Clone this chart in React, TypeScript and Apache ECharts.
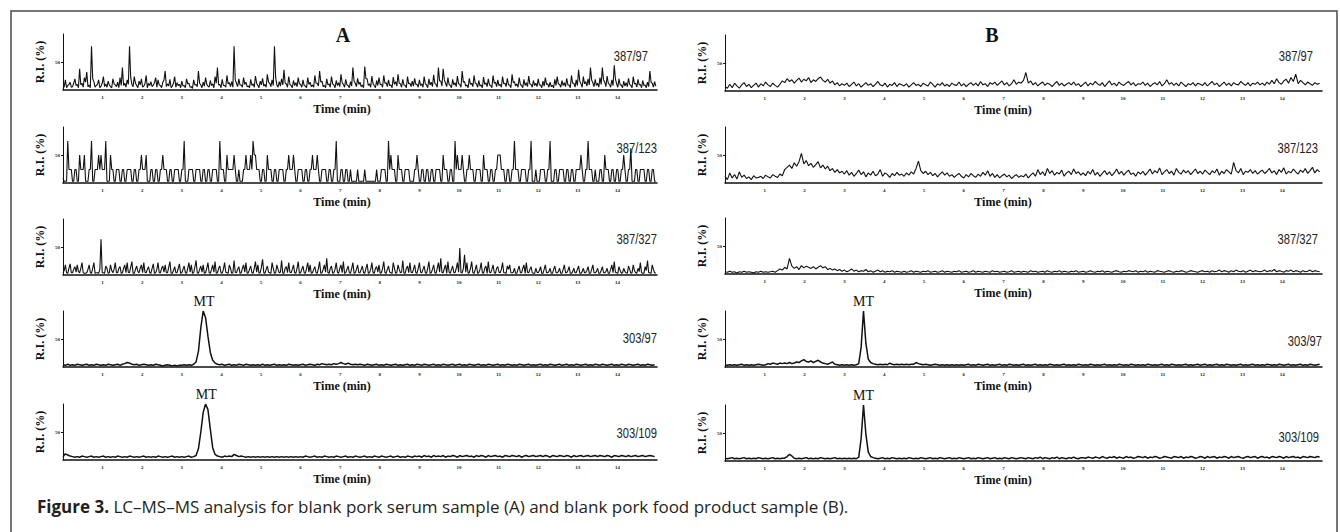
import React, { useEffect, useRef } from "react";
import * as echarts from "echarts";

// ---------- DATA (relative intensity %, sampled every 0.06 min from 0 to 14.94 min) ----------
const STEP = 0.06;
const transitionsA = ["387/97", "387/123", "387/327", "303/97", "303/109"];
const transitionsB = ["387/97", "387/123", "387/327", "303/97", "303/109"];
const peakLabel = "MT";
const peakTimeA = [3.56, 3.62];
const peakTimeB = [3.48, 3.48];

// A: blank pork serum
const a387_97 = [
  3, 18, 8, 14, 6, 20, 10, 38, 12, 22, 32, 9, 78, 15, 8, 18, 7, 24, 11, 16, 6, 20, 9, 14, 22,
  40, 12, 18, 78, 10, 24, 8, 16, 20, 7, 26, 12, 15, 9, 22, 18, 8, 14, 34, 11, 19, 7, 24, 13, 10,
  16, 8, 20, 12, 6, 18, 10, 34, 9, 14, 22, 7, 17, 11, 24, 40, 10, 19, 8, 26, 13, 15, 78, 12, 20,
  9, 22, 14, 7, 19, 11, 25, 8, 16, 21, 10, 28, 12, 18, 78, 9, 15, 20, 36, 11, 24, 8, 17, 13, 22,
  10, 18, 7, 22, 14, 9, 26, 12, 34, 16, 8, 20, 11, 24, 9, 17, 13, 28, 10, 19, 8, 15, 40, 12, 21,
  14, 9, 42, 20, 11, 25, 8, 17, 22, 10, 26, 13, 18, 9, 23, 15, 28, 11, 19, 8, 24, 12, 16, 21, 10,
  18, 11, 24, 9, 20, 14, 27, 10, 40, 16, 38, 12, 22, 8, 19, 13, 25, 10, 34, 15, 9, 21, 12, 26, 11,
  17, 9, 23, 13, 20, 8, 26, 14, 18, 10, 24, 12, 21, 9, 28, 15, 11, 22, 8, 19, 13, 25, 10, 17, 12,
  20, 9, 16, 22, 11, 14, 8, 19, 24, 10, 17, 13, 21, 9, 26, 12, 18, 36, 11, 24, 15, 20, 40, 13, 19,
  12, 22, 40, 14, 25, 10, 18, 44, 11, 20, 9, 16, 13, 21, 8, 24, 12, 19, 10, 17, 9, 14, 34, 12, 15,
];
// readings half-way between the samples above (t = k*0.06 + 0.03)
const a387_97_mid = [
  6, 4, 10, 5, 12, 8, 4, 9, 5, 14, 6, 4, 20, 5, 10, 4, 12, 6, 5, 9, 4, 11, 6, 4, 8,
  8, 5, 10, 22, 6, 12, 4, 9, 5, 11, 4, 8, 6, 13, 5, 9, 4, 18, 6, 7, 4, 12, 5, 8, 4,
  7, 4, 11, 5, 3, 9, 6, 12, 4, 7, 10, 5, 8, 4, 12, 9, 4, 8, 5, 11, 6, 5, 18, 6, 9,
  5, 10, 6, 4, 8, 5, 12, 4, 9, 7, 5, 14, 6, 8, 22, 5, 7, 9, 12, 5, 10, 4, 8, 6, 11,
  5, 8, 4, 10, 6, 5, 12, 7, 14, 6, 4, 9, 5, 11, 4, 8, 6, 13, 5, 9, 4, 7, 16, 6, 10,
  6, 4, 20, 8, 5, 11, 4, 8, 10, 5, 12, 6, 8, 4, 10, 7, 12, 5, 9, 4, 11, 6, 7, 10, 5,
  8, 5, 11, 4, 9, 6, 12, 5, 16, 7, 18, 6, 10, 4, 9, 6, 11, 5, 14, 7, 4, 10, 6, 12, 5,
  7, 4, 10, 6, 9, 4, 12, 6, 8, 5, 11, 6, 9, 4, 13, 7, 5, 10, 4, 8, 6, 11, 5, 8, 6,
  9, 4, 7, 10, 5, 6, 4, 8, 11, 5, 8, 6, 9, 4, 12, 5, 8, 16, 5, 11, 7, 9, 18, 6, 8,
  5, 10, 18, 6, 12, 5, 8, 20, 5, 9, 4, 7, 6, 10, 4, 11, 5, 9, 4, 8, 4, 6, 14, 5, 7,
];
const a387_123 = [
  8, 3, 75, 24, 3, 24, 3, 50, 24, 50, 3, 24, 75, 3, 24, 50, 50, 24, 75, 3, 50, 24, 3, 24, 3,
  24, 3, 24, 24, 3, 24, 3, 24, 50, 24, 50, 3, 24, 3, 24, 3, 24, 50, 24, 3, 24, 3, 24, 24, 3,
  24, 75, 3, 24, 24, 3, 24, 24, 3, 24, 3, 24, 3, 24, 24, 3, 75, 24, 3, 50, 24, 24, 50, 3, 24,
  3, 24, 50, 24, 50, 75, 50, 24, 3, 24, 3, 50, 24, 3, 24, 3, 24, 24, 3, 24, 50, 24, 50, 3, 24,
  24, 3, 24, 3, 24, 50, 24, 50, 3, 24, 24, 3, 24, 3, 24, 75, 3, 24, 3, 24, 3, 24, 3, 3, 24,
  3, 3, 24, 3, 3, 3, 3, 24, 3, 24, 24, 3, 75, 50, 24, 3, 50, 24, 3, 24, 24, 3, 3, 24, 50,
  3, 24, 3, 24, 3, 24, 3, 24, 24, 3, 50, 24, 3, 24, 3, 75, 50, 24, 50, 3, 24, 50, 24, 3, 24,
  24, 3, 50, 24, 3, 24, 3, 24, 50, 50, 24, 3, 24, 3, 24, 75, 24, 3, 24, 24, 3, 24, 75, 3, 24,
  3, 24, 24, 3, 24, 75, 3, 24, 3, 24, 24, 3, 24, 3, 24, 3, 24, 24, 50, 3, 24, 75, 24, 3, 24,
  3, 24, 3, 50, 24, 3, 24, 3, 24, 3, 24, 50, 3, 24, 62, 3, 24, 3, 24, 24, 3, 24, 3, 24, 3,
];
const a387_123_mid = [
  3, 3, 24, 24, 3, 24, 3, 24, 24, 3, 3, 24, 3, 24, 24, 24, 24, 24, 3, 3, 24, 3, 24, 24, 3,
  24, 3, 24, 24, 3, 24, 3, 24, 24, 24, 3, 3, 24, 3, 24, 3, 24, 24, 24, 3, 24, 3, 24, 24, 3,
  24, 3, 3, 24, 24, 3, 24, 24, 3, 24, 3, 24, 3, 24, 24, 3, 24, 24, 3, 24, 24, 24, 24, 3, 3,
  3, 24, 24, 24, 24, 50, 24, 24, 3, 24, 3, 24, 24, 3, 24, 3, 24, 24, 3, 24, 24, 24, 24, 3, 24,
  24, 3, 24, 3, 24, 24, 24, 24, 3, 24, 24, 3, 24, 3, 24, 3, 3, 24, 3, 24, 3, 3, 3, 3, 3,
  3, 3, 3, 3, 3, 3, 3, 3, 3, 24, 24, 3, 24, 24, 24, 3, 24, 24, 3, 24, 24, 3, 3, 24, 24,
  3, 24, 3, 24, 3, 24, 3, 24, 24, 3, 24, 24, 3, 24, 3, 24, 24, 24, 24, 3, 24, 24, 24, 3, 24,
  24, 3, 24, 24, 3, 24, 3, 24, 50, 24, 24, 3, 24, 3, 24, 24, 24, 3, 24, 24, 3, 24, 3, 3, 3,
  3, 24, 24, 3, 24, 3, 3, 24, 3, 24, 24, 3, 24, 3, 24, 3, 24, 24, 24, 3, 24, 24, 24, 3, 3,
  3, 24, 3, 24, 24, 3, 24, 3, 24, 3, 24, 24, 3, 24, 3, 3, 24, 3, 24, 24, 3, 24, 3, 24, 3,
];
const a387_327 = [
  4, 18, 3, 20, 4, 15, 18, 4, 22, 3, 4, 18, 3, 22, 4, 3, 64, 4, 16, 3, 18, 4, 22, 4, 15,
  4, 18, 22, 4, 24, 3, 16, 4, 18, 22, 4, 15, 3, 20, 4, 22, 4, 16, 18, 4, 24, 3, 15, 4, 20,
  4, 16, 3, 22, 18, 4, 26, 3, 16, 18, 4, 22, 3, 18, 24, 4, 16, 3, 22, 4, 18, 3, 26, 4, 15,
  4, 18, 22, 4, 16, 3, 24, 18, 4, 28, 3, 16, 4, 22, 3, 18, 4, 26, 3, 15, 22, 4, 18, 3, 24,
  4, 16, 3, 22, 18, 4, 15, 3, 24, 4, 18, 30, 3, 16, 4, 22, 3, 18, 24, 4, 16, 3, 22, 4, 18,
  4, 16, 3, 20, 4, 22, 3, 15, 18, 4, 24, 3, 16, 4, 22, 3, 18, 4, 26, 3, 16, 22, 4, 18, 3,
  22, 4, 16, 3, 24, 4, 18, 3, 22, 30, 4, 18, 24, 3, 16, 4, 22, 48, 4, 36, 22, 4, 24, 3, 18,
  4, 22, 3, 16, 24, 4, 18, 3, 15, 4, 22, 4, 16, 18, 4, 12, 3, 16, 4, 18, 22, 4, 15, 3, 12,
  4, 15, 3, 18, 4, 12, 3, 16, 4, 12, 3, 18, 4, 15, 3, 12, 4, 16, 3, 12, 4, 15, 3, 18, 4,
  12, 3, 15, 4, 12, 3, 18, 24, 4, 15, 3, 12, 4, 16, 3, 18, 4, 12, 22, 3, 15, 26, 4, 18, 4,
];
const a387_327_mid = [
  8, 4, 12, 4, 10, 5, 6, 12, 4, 3, 10, 4, 12, 3, 4, 10, 4, 3, 12, 4, 8, 10, 4, 12, 3,
  12, 4, 5, 14, 3, 10, 6, 12, 4, 5, 10, 4, 12, 3, 10, 4, 12, 5, 4, 14, 3, 8, 4, 12, 3,
  10, 4, 12, 5, 3, 14, 4, 10, 5, 3, 12, 4, 10, 5, 3, 12, 4, 10, 5, 3, 12, 4, 5, 10, 3,
  12, 5, 3, 10, 4, 12, 5, 3, 14, 4, 10, 5, 3, 12, 4, 10, 5, 3, 12, 4, 5, 10, 4, 12, 3,
  10, 4, 12, 5, 3, 10, 4, 12, 3, 10, 5, 4, 12, 3, 10, 5, 12, 4, 3, 10, 4, 12, 3, 10, 4,
  10, 4, 12, 3, 10, 4, 12, 5, 3, 12, 4, 10, 5, 3, 12, 4, 10, 5, 3, 12, 4, 5, 10, 4, 12,
  5, 10, 4, 12, 3, 10, 4, 12, 5, 4, 12, 3, 5, 10, 4, 12, 5, 4, 12, 5, 3, 12, 4, 10, 3,
  10, 4, 12, 3, 5, 10, 4, 12, 5, 10, 4, 3, 10, 4, 5, 3, 10, 4, 12, 3, 5, 10, 4, 3, 5,
  8, 3, 10, 4, 6, 3, 10, 4, 6, 3, 10, 4, 8, 3, 6, 4, 10, 3, 6, 4, 8, 3, 10, 4, 6,
  3, 8, 4, 6, 3, 10, 4, 5, 3, 8, 4, 6, 3, 10, 4, 8, 3, 6, 4, 3, 8, 4, 3, 10, 3,
];
const a303_97 = [
  4, 3, 5, 3, 4, 3, 5, 4, 3, 4, 5, 3, 4, 3, 5, 4, 3, 4, 3, 5, 4, 3, 4, 5, 3,
  5, 6, 8, 7, 5, 4, 5, 3, 4, 5, 4, 3, 4, 3, 5, 4, 3, 2, 3, 4, 3, 2, 3, 2, 3,
  3, 4, 3, 4, 3, 5, 9, 28, 70, 100, 88, 55, 26, 12, 7, 5, 4, 5, 3, 4, 5, 3, 4, 3, 5,
  4, 3, 5, 4, 3, 4, 3, 4, 3, 5, 3, 4, 3, 4, 5, 3, 4, 3, 4, 3, 5, 4, 3, 4, 3,
  4, 5, 3, 4, 5, 4, 3, 5, 4, 6, 5, 4, 5, 4, 6, 5, 6, 8, 6, 5, 7, 5, 4, 5, 4,
  5, 4, 3, 5, 4, 3, 4, 5, 3, 4, 3, 5, 4, 3, 4, 5, 3, 4, 3, 4, 5, 3, 4, 3, 5,
  4, 3, 5, 4, 3, 4, 5, 3, 4, 3, 5, 4, 3, 4, 5, 3, 4, 5, 3, 4, 3, 5, 4, 3, 4,
  5, 3, 4, 3, 5, 4, 3, 4, 5, 3, 4, 3, 5, 4, 3, 4, 3, 5, 4, 3, 4, 5, 3, 4, 3,
  4, 5, 3, 4, 3, 5, 4, 3, 4, 5, 3, 4, 5, 3, 4, 3, 5, 4, 3, 4, 5, 3, 4, 3, 5,
  4, 3, 5, 4, 3, 4, 5, 3, 4, 3, 5, 4, 3, 5, 4, 3, 4, 5, 3, 4, 3, 5, 4, 3, 4,
];
const a303_109 = [
  6, 11, 9, 7, 6, 5, 6, 5, 7, 6, 5, 6, 7, 5, 6, 5, 6, 7, 5, 6, 5, 6, 5, 7, 6,
  5, 6, 5, 7, 6, 5, 6, 5, 6, 7, 5, 6, 5, 6, 5, 7, 6, 5, 6, 5, 6, 7, 5, 6, 5,
  6, 5, 6, 7, 5, 6, 8, 20, 50, 85, 100, 90, 55, 22, 10, 7, 6, 5, 7, 6, 7, 6, 10, 8, 6,
  7, 6, 5, 6, 5, 6, 5, 6, 5, 6, 5, 6, 5, 6, 5, 6, 5, 6, 5, 6, 5, 6, 5, 6, 5,
  6, 5, 7, 6, 5, 6, 7, 5, 6, 5, 7, 6, 5, 6, 5, 7, 6, 5, 6, 7, 5, 6, 5, 7, 6,
  5, 6, 7, 5, 6, 5, 7, 6, 5, 7, 6, 5, 6, 7, 5, 6, 7, 5, 6, 5, 7, 6, 5, 7, 6,
  7, 5, 8, 6, 7, 5, 8, 6, 7, 6, 8, 5, 7, 6, 8, 7, 5, 8, 6, 7, 8, 6, 7, 5, 8,
  6, 8, 7, 5, 8, 6, 7, 8, 6, 7, 5, 8, 7, 6, 8, 7, 6, 8, 5, 7, 8, 6, 7, 8, 6,
  7, 8, 6, 8, 7, 5, 8, 7, 6, 8, 7, 6, 8, 7, 5, 8, 6, 7, 8, 6, 7, 8, 6, 7, 8,
  6, 8, 7, 6, 8, 7, 5, 8, 7, 6, 8, 7, 6, 8, 6, 7, 8, 6, 7, 8, 6, 7, 8, 7, 6,
];

// B: blank pork food product
const b387_97 = [
  8, 5, 12, 6, 14, 9, 5, 11, 15, 8, 12, 6, 10, 14, 7, 13, 9, 16, 11, 8, 14, 10, 7, 12, 18,
  15, 22, 17, 20, 14, 19, 23, 16, 21, 18, 24, 15, 20, 17, 22, 25, 19, 16, 21, 14, 18, 11, 15, 9, 13,
  10, 14, 8, 12, 16, 9, 13, 7, 11, 15, 10, 13, 8, 12, 17, 11, 9, 14, 7, 12, 10, 15, 8, 13, 11,
  9, 13, 7, 11, 15, 10, 12, 8, 14, 11, 9, 16, 12, 7, 13, 10, 15, 9, 12, 8, 14, 11, 10, 16, 9,
  13, 8, 12, 15, 10, 14, 9, 17, 11, 13, 8, 15, 12, 16, 10, 14, 18, 11, 15, 9, 13, 20, 12, 16, 14,
  19, 33, 14, 18, 11, 15, 9, 13, 16, 10, 14, 12, 8, 13, 17, 10, 14, 9, 12, 15, 11, 16, 10, 13, 8,
  12, 16, 9, 14, 11, 17, 13, 10, 15, 8, 13, 18, 11, 14, 9, 16, 12, 10, 14, 17, 11, 15, 9, 13, 12,
  16, 10, 14, 8, 12, 15, 11, 17, 9, 13, 20, 12, 15, 10, 14, 9, 16, 12, 8, 13, 11, 15, 9, 14, 12,
  10, 15, 9, 13, 17, 11, 14, 8, 12, 16, 10, 14, 9, 15, 12, 11, 17, 13, 10, 15, 9, 14, 12, 16, 11,
  14, 10, 16, 12, 19, 13, 22, 15, 12, 18, 21, 14, 24, 17, 30, 13, 19, 15, 11, 16, 13, 10, 15, 12, 14,
];
const b387_123 = [
  12, 6, 18, 9, 15, 7, 20, 10, 14, 8, 11, 6, 13, 9, 10, 12, 8, 14, 11, 9, 15, 12, 10, 16, 13,
  24, 28, 32, 26, 36, 30, 38, 53, 34, 40, 31, 35, 28, 33, 38, 27, 32, 25, 30, 22, 26, 19, 24, 18, 21,
  16, 22, 14, 19, 12, 17, 23, 15, 20, 11, 18, 14, 21, 13, 16, 24, 12, 18, 15, 10, 17, 13, 19, 14, 16,
  12, 18, 14, 20, 16, 26, 39, 22, 17, 21, 15, 19, 13, 17, 11, 16, 20, 14, 18, 12, 15, 10, 14, 17, 12,
  9, 15, 11, 17, 13, 10, 16, 12, 19, 14, 22, 12, 17, 10, 15, 9, 13, 16, 11, 14, 8, 12, 15, 10, 13,
  11, 16, 9, 14, 18, 12, 24, 15, 20, 13, 26, 17, 22, 14, 19, 16, 23, 12, 18, 21, 15, 25, 17, 20, 14,
  18, 13, 21, 16, 24, 14, 19, 12, 17, 22, 15, 20, 13, 18, 25, 16, 21, 14, 19, 23, 15, 18, 12, 20, 16,
  21, 14, 19, 25, 16, 22, 18, 27, 15, 20, 24, 17, 21, 14, 26, 19, 16, 23, 18, 22, 15, 20, 25, 17, 21,
  16, 23, 19, 15, 22, 18, 25, 14, 21, 17, 24, 20, 16, 37, 22, 18, 26, 15, 21, 19, 24, 17, 22, 16, 20,
  23, 17, 21, 26, 18, 22, 15, 24, 19, 27, 16, 21, 18, 25, 20, 16, 23, 19, 26, 17, 22, 28, 18, 24, 20,
];
const b387_327 = [
  4, 3, 5, 3, 4, 2, 4, 3, 5, 3, 4, 3, 2, 4, 3, 5, 3, 4, 3, 4, 5, 3, 6, 9, 7,
  12, 9, 28, 14, 10, 13, 8, 15, 11, 14, 12, 10, 13, 9, 12, 15, 11, 13, 8, 10, 7, 9, 6, 8, 5,
  7, 4, 6, 9, 5, 7, 4, 6, 5, 8, 4, 6, 3, 5, 7, 4, 6, 3, 5, 4, 6, 3, 5, 4, 3,
  5, 3, 4, 6, 3, 5, 4, 3, 5, 4, 6, 3, 4, 5, 3, 4, 6, 3, 5, 4, 3, 5, 4, 6, 3,
  4, 5, 3, 4, 6, 3, 5, 4, 3, 5, 4, 3, 6, 4, 5, 3, 4, 5, 3, 4, 6, 3, 4, 5, 3,
  5, 4, 3, 6, 4, 5, 3, 4, 5, 3, 6, 4, 3, 5, 4, 6, 3, 5, 4, 3, 5, 4, 6, 3, 4,
  5, 3, 4, 6, 4, 3, 5, 4, 6, 3, 5, 4, 3, 5, 6, 4, 3, 5, 4, 6, 5, 4, 6, 3, 5,
  4, 6, 3, 5, 4, 3, 6, 5, 4, 3, 5, 6, 4, 3, 5, 4, 6, 5, 3, 4, 6, 5, 4, 3, 5,
  6, 4, 5, 3, 6, 4, 5, 7, 4, 6, 5, 3, 6, 4, 7, 5, 4, 6, 3, 5, 7, 4, 6, 5, 4,
  5, 7, 4, 6, 5, 8, 4, 6, 5, 3, 6, 5, 7, 4, 6, 5, 3, 6, 4, 5, 7, 4, 6, 5, 4,
];
const b303_97 = [
  4, 3, 4, 3, 4, 3, 4, 5, 3, 4, 3, 4, 3, 4, 5, 4, 3, 4, 6, 5, 7, 6, 5, 7, 6,
  7, 6, 8, 6, 7, 9, 8, 11, 13, 10, 9, 11, 8, 10, 12, 9, 7, 6, 5, 7, 9, 5, 4, 3, 4,
  3, 4, 3, 4, 3, 4, 6, 35, 100, 42, 14, 8, 6, 5, 4, 5, 4, 5, 4, 7, 5, 4, 5, 4, 5,
  4, 5, 4, 5, 5, 8, 6, 5, 4, 5, 4, 3, 4, 5, 4, 3, 4, 3, 4, 3, 4, 3, 4, 3, 4,
  3, 4, 5, 3, 4, 3, 5, 4, 3, 4, 5, 3, 4, 3, 4, 5, 3, 4, 3, 5, 4, 3, 4, 3, 4,
  5, 3, 4, 3, 4, 5, 3, 4, 3, 4, 3, 5, 4, 3, 4, 3, 4, 5, 3, 4, 3, 4, 3, 5, 4,
  3, 4, 3, 5, 4, 3, 4, 3, 4, 5, 3, 4, 3, 4, 3, 5, 4, 3, 4, 3, 5, 4, 3, 4, 3,
  4, 3, 5, 4, 3, 4, 3, 4, 5, 3, 4, 3, 5, 4, 3, 4, 3, 4, 5, 3, 4, 3, 4, 5, 3,
  4, 5, 3, 4, 3, 4, 5, 3, 4, 3, 5, 4, 3, 4, 3, 4, 5, 3, 4, 3, 4, 5, 3, 4, 3,
  4, 3, 5, 4, 3, 4, 3, 5, 4, 3, 4, 5, 3, 4, 3, 4, 5, 3, 4, 3, 5, 4, 3, 4, 5,
];
const b303_109 = [
  5, 4, 5, 6, 4, 5, 4, 5, 6, 4, 5, 4, 5, 4, 6, 5, 4, 5, 4, 5, 6, 4, 5, 4, 5,
  5, 8, 12, 9, 5, 4, 5, 4, 5, 6, 4, 5, 4, 5, 4, 6, 5, 4, 5, 4, 5, 6, 4, 5, 4,
  5, 4, 5, 4, 5, 4, 7, 40, 100, 48, 16, 8, 6, 5, 4, 5, 6, 4, 5, 4, 6, 5, 4, 5, 4,
  5, 4, 6, 5, 4, 5, 4, 6, 5, 4, 5, 6, 4, 5, 4, 6, 5, 4, 5, 6, 4, 5, 4, 6, 5,
  4, 5, 6, 4, 5, 4, 6, 5, 4, 5, 6, 4, 5, 6, 4, 5, 4, 6, 5, 4, 6, 5, 4, 5, 6,
  5, 4, 6, 5, 4, 6, 5, 7, 4, 6, 5, 4, 6, 5, 7, 4, 6, 5, 4, 6, 5, 7, 5, 4, 6,
  6, 5, 7, 6, 5, 7, 6, 5, 8, 6, 5, 7, 6, 8, 5, 7, 6, 5, 8, 6, 7, 5, 6, 8, 7,
  6, 8, 5, 7, 6, 8, 7, 5, 6, 8, 7, 6, 5, 8, 7, 6, 8, 5, 7, 6, 8, 7, 5, 6, 8,
  7, 5, 8, 6, 7, 8, 5, 7, 6, 8, 7, 5, 8, 6, 7, 8, 6, 5, 7, 8, 6, 7, 8, 5, 7,
  8, 6, 7, 5, 8, 7, 6, 8, 7, 5, 8, 6, 7, 8, 6, 7, 5, 8, 7, 6, 8, 7, 6, 8, 7,
];

const seriesA = [a387_97, a387_123, a387_327, a303_97, a303_109];
const midA: (number[] | null)[] = [a387_97_mid, a387_123_mid, a387_327_mid, null, null];
const seriesB = [b387_97, b387_123, b387_327, b303_97, b303_109];
const midB: (number[] | null)[] = [null, null, null, null, null];

// ---------- LAYOUT ----------
const COL = [
  { left: 63, width: 594, base: [90, 183, 275, 367, 460], labelRight: [648, 657, 657, 657, 657], labelY: [57, 149, 240, 339, 434], timeX: 342, panel: "A", panelX: 343 },
  { left: 725, width: 597, base: [91, 183, 274, 367, 461], labelRight: [1313, 1318, 1318, 1322, 1319], labelY: [57, 149, 240, 342, 438], timeX: 1003, panel: "B", panelX: 992 },
];
const PLOT_H = 56;
const SERIF = "'Liberation Serif', 'Times New Roman', serif";
const LABEL_FONT = "14px 'Liberation Sans', Arial, sans-serif";

function toData(vals: number[], mid: number[] | null) {
  const out: number[][] = [];
  vals.forEach((v, k) => {
    const t = Math.round(k * STEP * 1000) / 1000;
    out.push([t, v]);
    if (mid) out.push([Math.round((t + STEP / 2) * 1000) / 1000, mid[k]]);
  });
  return out;
}

export default function App() {
  const ref = useRef<HTMLDivElement>(null);
  useEffect(() => {
    if (!ref.current) return;
    const chart = echarts.init(ref.current, null, { renderer: "svg" });
    const grid: any[] = [];
    const xAxis: any[] = [];
    const yAxis: any[] = [];
    const series: any[] = [];
    const graphic: any[] = [];

    COL.forEach((col, c) => {
      const data = c === 0 ? seriesA : seriesB;
      const mids = c === 0 ? midA : midB;
      const names = c === 0 ? transitionsA : transitionsB;
      const peaks = c === 0 ? peakTimeA : peakTimeB;
      data.forEach((vals, r) => {
        const idx = grid.length;
        grid.push({ left: col.left, width: col.width, top: col.base[r] - PLOT_H, height: PLOT_H });
        xAxis.push({
          gridIndex: idx, type: "value", min: 0, max: 15, interval: 1,
          axisLine: { lineStyle: { color: "#111", width: 1.5 } },
          axisTick: { show: false },
          splitLine: { show: false },
          axisLabel: {
            show: true, margin: 5, fontSize: 5, fontWeight: "bold", color: "#222", fontFamily: SERIF,
            showMinLabel: false, showMaxLabel: false,
          },
        });
        yAxis.push({
          gridIndex: idx, type: "value", min: 0, max: 100, interval: 50,
          axisLine: { show: true, lineStyle: { color: "#111", width: 1 } },
          axisTick: { show: true, length: 2, customValues: [50], lineStyle: { color: "#111" } },
          axisLabel: { show: true, customValues: [50], fontSize: 5, fontWeight: "bold", color: "#222", margin: 3, fontFamily: SERIF },
          splitLine: { show: false },
          name: "R.I. (%)", nameLocation: "middle", nameRotate: 90, nameGap: 17,
          nameTextStyle: { fontFamily: SERIF, fontWeight: "bold", fontSize: 12, color: "#111" },
        });
        const s: any = {
          type: "line", xAxisIndex: idx, yAxisIndex: idx, showSymbol: false, symbol: "none",
          lineStyle: { color: "#111", width: r >= 3 ? 1.5 : 1.1 },
          data: toData(vals, mids[r]),
        };
        if (r >= 3) {
          s.markPoint = {
            symbol: "circle", symbolSize: 0, silent: true,
            data: [{ coord: [peaks[r - 3], 100], name: peakLabel }],
            label: { show: true, position: "top", distance: 3, formatter: peakLabel, fontFamily: SERIF, fontSize: 14, color: "#111" },
          };
        }
        series.push(s);
        graphic.push({
          type: "text", x: col.labelRight[r], y: col.labelY[r], scaleX: 0.8,
          style: { text: names[r], font: LABEL_FONT, fill: "#222", textAlign: "right", textVerticalAlign: "middle" },
        });
        graphic.push({
          type: "text", x: col.timeX, y: col.base[r] + 19,
          style: { text: "Time (min)", font: `bold 12px ${SERIF}`, fill: "#111", textAlign: "center", textVerticalAlign: "middle" },
        });
      });
      graphic.push({
        type: "text", x: col.panelX, y: 35,
        style: { text: col.panel, font: `bold 20px ${SERIF}`, fill: "#111", textAlign: "center", textVerticalAlign: "middle" },
      });
    });

    graphic.push({
      type: "rect", shape: { x: 11, y: 11, width: 1326, height: 540 },
      style: { fill: "none", stroke: "#4a4a4a", lineWidth: 1.5 }, z: -1,
    });
    graphic.push({
      type: "text", x: 37, y: 506,
      style: {
        text: "{b|Figure 3.} LC–MS–MS analysis for blank pork serum sample (A) and blank pork food product sample (B).",
        font: "17px 'Open Sans', sans-serif", fill: "#231f20", textAlign: "left", textVerticalAlign: "middle",
        rich: { b: { fontWeight: "bold", fontSize: 17, fontFamily: "'Open Sans', sans-serif", fill: "#231f20" } },
      },
    });

    chart.setOption({ animation: false, backgroundColor: "#fff", grid, xAxis, yAxis, series, graphic });
    return () => chart.dispose();
  }, []);
  return <div ref={ref} style={{ position: "fixed", left: 0, top: 0, width: 1340, height: 532 }} />;
}
